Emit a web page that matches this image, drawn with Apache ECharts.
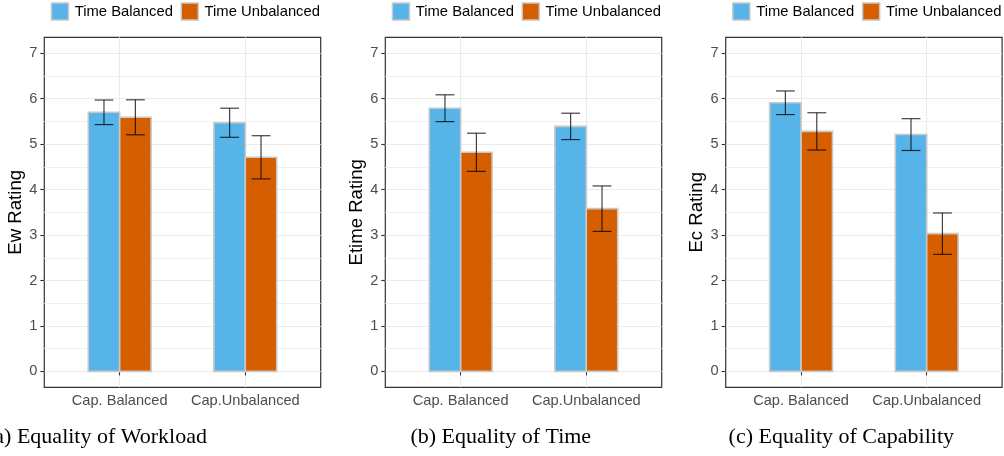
<!DOCTYPE html>
<html><head><meta charset="utf-8">
<script src="https://cdn.jsdelivr.net/npm/echarts@6/dist/echarts.min.js"></script>
<style>html,body{margin:0;padding:0;background:#fff}#c{width:1004px;height:456px}</style>
</head><body><div id="c"></div>
<script>
// ---------- data ----------
const categories = ['Cap. Balanced', 'Cap.Unbalanced'];
const seriesNames = ['Time Balanced', 'Time Unbalanced'];
const yTicks = [0, 1, 2, 3, 4, 5, 6, 7];
const yMinorTicks = [0.5, 1.5, 2.5, 3.5, 4.5, 5.5, 6.5];
const yTitles = ['Ew Rating', 'Etime Rating', 'Ec Rating'];
const captions = ['(a) Equality of Workload', '(b) Equality of Time', '(c) Equality of Capability'];

// Panel (a) Equality of Workload
const ewBalanced = [5.70, 5.47];
const ewBalancedErr = [0.27, 0.32];
const ewUnbalanced = [5.59, 4.71];
const ewUnbalancedErr = [0.385, 0.475];
// Panel (b) Equality of Time
const etBalanced = [5.79, 5.39];
const etBalancedErr = [0.295, 0.29];
const etUnbalanced = [4.82, 3.58];
const etUnbalancedErr = [0.42, 0.50];
// Panel (c) Equality of Capability
const ecBalanced = [5.91, 5.21];
const ecBalancedErr = [0.26, 0.35];
const ecUnbalanced = [5.28, 3.03];
const ecUnbalancedErr = [0.41, 0.455];

// ---------- styling / layout ----------
const colors = ['#56B4E9', '#D55E00'];
const FONT = '"Liberation Sans", Arial, Helvetica, sans-serif';
const panelLefts = [44.3, 385.3, 725.7];
const panelWidth = 276.4;
const panelTop = 37.3;
const panelHeight = 350;
const captionX = [97, 500.8, 841.3];

const panels = [
  [[ewBalanced, ewBalancedErr], [ewUnbalanced, ewUnbalancedErr]],
  [[etBalanced, etBalancedErr], [etUnbalanced, etUnbalancedErr]],
  [[ecBalanced, ecBalancedErr], [ecUnbalanced, ecUnbalancedErr]]
];

const BAR_W = 0.25, CAP_W = 0.15;

function renderBar(params, api) {
  const x = api.value(0), y = api.value(1), e = api.value(2);
  const p0 = api.coord([x - BAR_W / 2, 0]);
  const p1 = api.coord([x + BAR_W / 2, y]);
  const top = api.coord([x, y + e]);
  const bot = api.coord([x, y - e]);
  const cl = api.coord([x - CAP_W / 2, y])[0];
  const cr = api.coord([x + CAP_W / 2, y])[0];
  const errStyle = { stroke: 'rgba(0,0,0,0.75)', lineWidth: 1.2 };
  return {
    type: 'group',
    children: [
      { type: 'rect', shape: { x: p0[0], y: p1[1], width: p1[0] - p0[0], height: p0[1] - p1[1] },
        style: { fill: api.visual('color'), stroke: '#c8c8c8', lineWidth: 1.6 } },
      { type: 'line', shape: { x1: top[0], y1: top[1], x2: bot[0], y2: bot[1] }, style: errStyle },
      { type: 'line', shape: { x1: cl, y1: top[1], x2: cr, y2: top[1] }, style: errStyle },
      { type: 'line', shape: { x1: cl, y1: bot[1], x2: cr, y2: bot[1] }, style: errStyle }
    ]
  };
}

const grid = [], xAxis = [], yAxis = [], series = [], legend = [], graphic = [];
panels.forEach((panel, i) => {
  grid.push({ left: panelLefts[i], top: panelTop, width: panelWidth, height: panelHeight,
    show: true, borderColor: '#333333', borderWidth: 1.2, backgroundColor: 'transparent' });
  xAxis.push({
    type: 'value', gridIndex: i, min: 0.4, max: 2.6,
    axisLine: { show: false },
    axisTick: { show: true, length: 4, customValues: [1, 2], lineStyle: { color: '#333333', width: 1.1 } },
    axisLabel: { show: true, customValues: [1, 2], margin: 6, color: '#4d4d4d', fontSize: 14.6, fontFamily: FONT,
      formatter: v => categories[Math.round(v) - 1] || '' },
    splitLine: { show: true, lineStyle: { color: '#ebebeb', width: 1.1 } }
  });
  // main y axis (major ticks/labels/gridlines)
  yAxis.push({
    type: 'value', gridIndex: i, min: -0.35, max: 7.35, position: 'left',
    name: yTitles[i], nameLocation: 'middle', nameGap: 18,
    nameTextStyle: { color: '#000', fontSize: 18.6, fontFamily: FONT },
    axisLine: { show: false },
    axisTick: { show: true, length: 4, customValues: yTicks, lineStyle: { color: '#333333', width: 1.1 } },
    axisLabel: { show: true, customValues: yTicks, margin: 7, color: '#4d4d4d', fontSize: 14.6, fontFamily: FONT },
    splitLine: { show: true, lineStyle: { color: '#ebebeb', width: 1.1 } }
  });
  // minor gridlines
  yAxis.push({
    type: 'value', gridIndex: i, min: -0.35, max: 7.35, position: 'left', offset: 0,
    axisLine: { show: false },
    axisTick: { show: false, customValues: yMinorTicks },
    axisLabel: { show: false, customValues: yMinorTicks },
    splitLine: { show: true, lineStyle: { color: '#f0f0f0', width: 1 } }
  });
  panel.forEach((s, k) => {
    const vals = s[0], errs = s[1];
    const offset = k === 0 ? -BAR_W / 2 : BAR_W / 2;
    series.push({
      type: 'custom', name: seriesNames[k], xAxisIndex: i, yAxisIndex: 2 * i,
      itemStyle: { color: colors[k] },
      renderItem: renderBar,
      encode: { x: 0, y: 1 },
      data: categories.map((c, j) => [j + 1 + offset, vals[j], errs[j]]),
      z: 5
    });
  });
  legend.push({
    left: panelLefts[i] + 6.4, top: 2.3, padding: 0, orient: 'horizontal',
    itemWidth: 17, itemHeight: 17, itemGap: 7.6, icon: 'rect', selectedMode: false,
    textStyle: { color: '#000', fontSize: 14.8, fontFamily: FONT, padding: [0, 0, 0, 1.3] },
    itemStyle: { borderColor: '#c8c8c8', borderWidth: 1.5 },
    data: seriesNames.map((n, k) => ({ name: n, itemStyle: { color: colors[k], borderColor: '#c8c8c8', borderWidth: 1.5 } }))
  });
  graphic.push({
    type: 'text', x: captionX[i], y: 437,
    style: { text: captions[i], x: 0, y: 0, align: 'center', verticalAlign: 'middle',
      font: '22px "Liberation Serif", "Times New Roman", serif', fill: '#000' }
  });
});

const chart = echarts.init(document.getElementById('c'), null, { renderer: 'canvas' });
chart.setOption({
  animation: false,
  backgroundColor: '#ffffff',
  grid, xAxis, yAxis, series, legend, graphic
});
</script>
</body></html>
